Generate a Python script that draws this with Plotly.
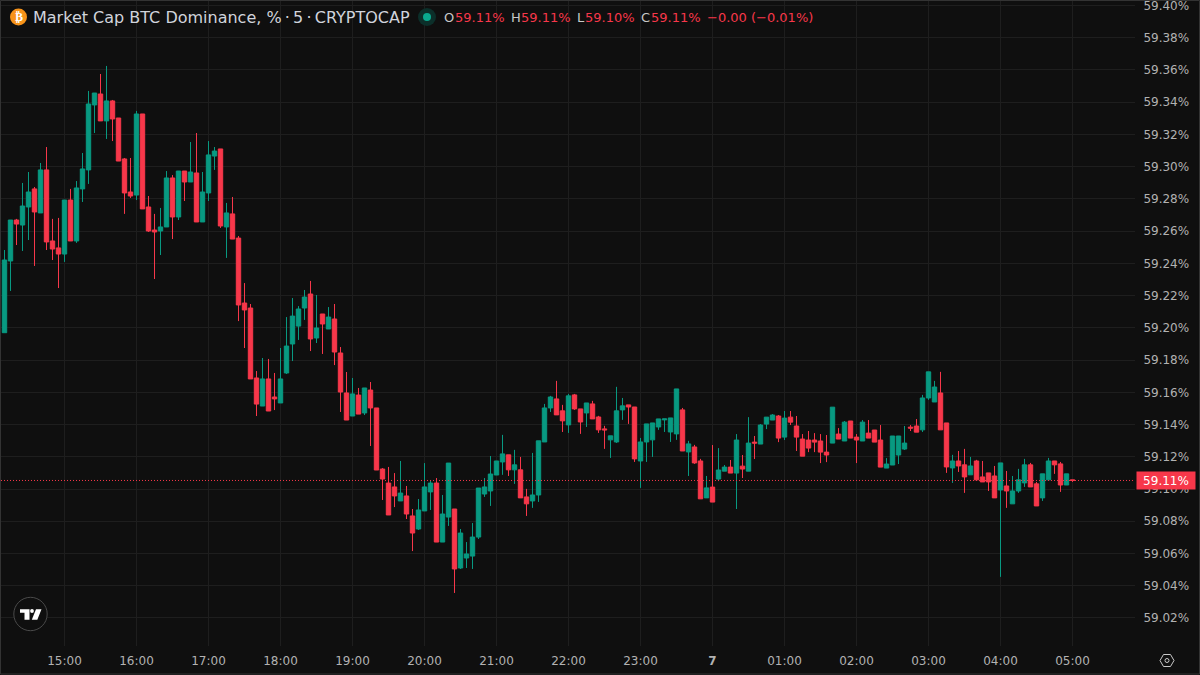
import pandas as pd
import plotly.graph_objects as go

open_ = [59.1970,59.2415,59.2669,59.2638,59.2750,59.2862,59.2713,59.2980,59.2539,59.2496,
59.2458,59.2793,59.2539,59.2862,59.2980,59.3383,59.3451,59.3284,59.3408,59.3302,
59.3048,59.2843,59.2824,59.3327,59.2750,59.2607,59.2601,59.2626,59.2930,59.2688,
59.2973,59.2905,59.2961,59.2657,59.2837,59.3066,59.3110,59.2626,59.2707,59.2557,
59.2154,59.2123,59.1689,59.1515,59.1683,59.1571,59.1534,59.1720,59.1900,59.2011,
59.2123,59.2210,59.1937,59.2086,59.1993,59.2055,59.1844,59.1596,59.1453,59.1583,
59.1472,59.1614,59.1503,59.1124,59.1037,59.1013,59.0926,59.0957,59.0833,59.0752,
59.0864,59.0982,59.1037,59.0671,59.0826,59.0876,59.0510,59.0572,59.0584,59.0702,
59.0969,59.0988,59.1087,59.1168,59.1212,59.1119,59.1119,59.0951,59.0926,59.0963,
59.1292,59.1503,59.1559,59.1485,59.1398,59.1584,59.1497,59.1472,59.1528,59.1447,
59.1373,59.1305,59.1292,59.1491,59.1522,59.1509,59.1174,59.1292,59.1305,59.1385,
59.1429,59.1354,59.1342,59.1491,59.1230,59.1261,59.1174,59.0945,59.1012,59.1062,
59.1111,59.1136,59.1099,59.1142,59.1111,59.1291,59.1279,59.1403,59.1428,59.1453,
59.1322,59.1446,59.1391,59.1310,59.1304,59.1304,59.1298,59.1229,59.1285,59.1341,
59.1298,59.1422,59.1322,59.1298,59.1347,59.1366,59.1304,59.1130,59.1149,59.1211,
59.1248,59.1384,59.1391,59.1367,59.1565,59.1540,59.1596,59.1410,59.1131,59.1174,
59.1150,59.1088,59.1174,59.1075,59.1100,59.1081,59.0994,59.1019,59.0908,59.0988,
59.1038,59.1150,59.1032,59.0945,59.1057,59.1174,59.1156,59.1025,59.1057]

high = [59.2483,59.2669,59.2676,59.2899,59.2967,59.2874,59.3023,59.3122,59.2676,59.2682,
59.2793,59.2862,59.2911,59.3085,59.3470,59.3457,59.3575,59.3625,59.3414,59.3302,
59.3054,59.3054,59.3346,59.3327,59.2818,59.2707,59.2744,59.2973,59.2948,59.2973,
59.2973,59.3153,59.3209,59.2967,59.3159,59.3122,59.3110,59.2775,59.2812,59.2570,
59.2278,59.2148,59.1732,59.1813,59.1807,59.1720,59.1875,59.2067,59.2185,59.2135,
59.2235,59.2291,59.2204,59.2086,59.2129,59.2148,59.1881,59.1726,59.1689,59.1627,
59.1627,59.1664,59.1503,59.1130,59.1137,59.1099,59.1174,59.1019,59.0876,59.0938,
59.1161,59.1056,59.1068,59.0963,59.1161,59.0876,59.0752,59.0671,59.0789,59.1006,
59.1068,59.1205,59.1174,59.1336,59.1212,59.1243,59.1199,59.1001,59.1224,59.1299,
59.1528,59.1578,59.1671,59.1522,59.1590,59.1590,59.1497,59.1534,59.1547,59.1454,
59.1392,59.1330,59.1634,59.1565,59.1522,59.1509,59.1317,59.1404,59.1410,59.1435,
59.1435,59.1441,59.1621,59.1503,59.1299,59.1274,59.1187,59.1081,59.1273,59.1254,
59.1149,59.1180,59.1341,59.1211,59.1446,59.1329,59.1403,59.1446,59.1465,59.1459,
59.1484,59.1484,59.1453,59.1341,59.1360,59.1347,59.1341,59.1335,59.1508,59.1378,
59.1422,59.1422,59.1341,59.1428,59.1428,59.1366,59.1397,59.1192,59.1329,59.1329,
59.1391,59.1397,59.1434,59.1584,59.1727,59.1671,59.1727,59.1410,59.1212,59.1236,
59.1249,59.1199,59.1181,59.1174,59.1100,59.1143,59.1162,59.1112,59.1081,59.1125,
59.1187,59.1162,59.1044,59.1094,59.1193,59.1174,59.1168,59.1094,59.1057]

low = [59.1970,59.2229,59.2514,59.2477,59.2545,59.2384,59.2713,59.2483,59.2421,59.2247,
59.2409,59.2539,59.2527,59.2781,59.2893,59.3209,59.3284,59.3172,59.3159,59.3035,
59.2707,59.2806,59.2793,59.2738,59.2595,59.2303,59.2452,59.2626,59.2551,59.2669,
59.2787,59.2905,59.2657,59.2657,59.2787,59.2980,59.2620,59.2434,59.2551,59.2042,
59.1875,59.1683,59.1453,59.1515,59.1484,59.1490,59.1534,59.1714,59.1794,59.1925,
59.2049,59.1856,59.1906,59.1838,59.1993,59.1769,59.1478,59.1428,59.1453,59.1465,
59.1459,59.1267,59.1118,59.0932,59.0839,59.0888,59.0926,59.0814,59.0615,59.0746,
59.0864,59.0870,59.0671,59.0671,59.0771,59.0355,59.0504,59.0510,59.0504,59.0690,
59.0951,59.0895,59.1087,59.1088,59.1081,59.1032,59.0945,59.0833,59.0883,59.0920,
59.1292,59.1478,59.1460,59.1354,59.1348,59.1491,59.1342,59.1385,59.1435,59.1348,
59.1249,59.1193,59.1286,59.1429,59.1404,59.1168,59.1007,59.1168,59.1199,59.1367,
59.1354,59.1292,59.1305,59.1236,59.1081,59.1156,59.0939,59.0945,59.0919,59.1049,
59.1111,59.1099,59.0876,59.1068,59.1111,59.1186,59.1279,59.1372,59.1428,59.1291,
59.1304,59.1397,59.1236,59.1204,59.1229,59.1229,59.1161,59.1167,59.1285,59.1310,
59.1298,59.1316,59.1161,59.1298,59.1316,59.1291,59.1136,59.1130,59.1149,59.1155,
59.1242,59.1360,59.1353,59.1354,59.1553,59.1540,59.1367,59.1100,59.1038,59.1106,
59.0976,59.1088,59.1057,59.1044,59.0988,59.0945,59.0455,59.0883,59.0908,59.0976,
59.1013,59.1013,59.0895,59.0926,59.1057,59.1094,59.0982,59.1025,59.1044]

close = [59.2421,59.2669,59.2644,59.2756,59.2843,59.2719,59.2980,59.2533,59.2489,59.2458,
59.2793,59.2539,59.2868,59.2986,59.3389,59.3457,59.3284,59.3408,59.3296,59.3035,
59.2837,59.2818,59.3327,59.2738,59.2601,59.2595,59.2626,59.2930,59.2688,59.2973,
59.2905,59.2967,59.2657,59.2843,59.3073,59.3097,59.2632,59.2713,59.2551,59.2142,
59.2111,59.1683,59.1527,59.1683,59.1484,59.1559,59.1683,59.1887,59.2073,59.2117,
59.2191,59.1931,59.1999,59.2024,59.2067,59.1850,59.1602,59.1428,59.1590,59.1465,
59.1627,59.1503,59.1118,59.1062,59.0839,59.0957,59.0975,59.0845,59.0727,59.0870,
59.1013,59.1037,59.0671,59.0845,59.1161,59.0504,59.0727,59.0597,59.0702,59.1006,
59.1013,59.1093,59.1174,59.1218,59.1119,59.1150,59.0945,59.0908,59.0963,59.1299,
59.1503,59.1571,59.1460,59.1423,59.1578,59.1497,59.1416,59.1534,59.1435,59.1367,
59.1367,59.1330,59.1485,59.1516,59.1509,59.1187,59.1292,59.1404,59.1410,59.1435,
59.1435,59.1441,59.1621,59.1236,59.1280,59.1162,59.0939,59.1007,59.0919,59.1118,
59.1136,59.1099,59.1304,59.1124,59.1285,59.1285,59.1397,59.1446,59.1459,59.1316,
59.1440,59.1415,59.1322,59.1204,59.1254,59.1291,59.1229,59.1211,59.1508,59.1310,
59.1415,59.1316,59.1304,59.1415,59.1316,59.1291,59.1136,59.1155,59.1329,59.1329,
59.1285,59.1378,59.1353,59.1565,59.1727,59.1633,59.1367,59.1137,59.1174,59.1143,
59.1075,59.1143,59.1057,59.1044,59.1044,59.0945,59.1162,59.0988,59.0988,59.1057,
59.1150,59.1013,59.0895,59.1094,59.1174,59.1150,59.1025,59.1094,59.1053]

times = pd.date_range("2024-06-06 14:10", periods=len(close), freq="5min")
hour_ticks = pd.date_range("2024-06-06 15:00", "2024-06-07 05:00", freq="1h")
hour_labels = ["15:00","16:00","17:00","18:00","19:00","20:00","21:00","22:00","23:00",
               "<b>7</b>","01:00","02:00","03:00","04:00","05:00"]
price_ticks = [59.02,59.04,59.06,59.08,59.10,59.12,59.14,59.16,59.18,59.20,
               59.22,59.24,59.26,59.28,59.30,59.32,59.34,59.36,59.38,59.40]

UP = "#089981"
DOWN = "#F7374A"
BG = "#0F0F0F"
GRID = "#1E1E1E"
TXT = "#B2B2B2"
FONT = "DejaVu Sans"

# plot area in page pixels
L, R, T, B = 1, 1135, 1, 646

def px(x):
    return (x - L) / (R - L)

def py(y):
    return (B - y) / (B - T)

def path(points):
    return "M " + " L ".join(f"{px(x)},{py(y)}" for x, y in points) + " Z"

def circle(cx, cy, r, **kw):
    return dict(type="circle", xref="paper", yref="paper", x0=px(cx - r), x1=px(cx + r),
                y0=py(cy + r), y1=py(cy - r), layer="above", **kw)

def label(x, text, color, size=13, y=17.5):
    return dict(x=px(x), y=py(y), xref="paper", yref="paper", xanchor="left", yanchor="middle",
                text=text, showarrow=False, align="left", borderpad=0,
                font=dict(family=FONT, size=size, color=color))

fig = go.Figure(go.Candlestick(
    x=times, open=open_, high=high, low=low, close=close,
    increasing=dict(line=dict(color=UP, width=1), fillcolor=UP),
    decreasing=dict(line=dict(color=DOWN, width=1), fillcolor=DOWN),
    whiskerwidth=0, showlegend=False,
))

shapes = [
    dict(type="line", xref="paper", yref="y", x0=0, x1=1, y0=close[-1], y1=close[-1],
         line=dict(color=DOWN, width=1, dash="1px,2px")),
    dict(type="rect", xref="paper", yref="paper", x0=px(0.5), x1=px(1199.5), y0=py(674), y1=py(0.5),
         line=dict(color="#333333", width=1), fillcolor="rgba(0,0,0,0)", layer="above"),
    circle(18.5, 17, 8.5, fillcolor="#F7931A", line=dict(width=0)),
    circle(427, 17, 9, fillcolor="#0C2F2A", line=dict(width=0)),
    circle(427, 17, 4, fillcolor="#0AA88E", line=dict(width=0)),
    circle(30.5, 614, 16.7, fillcolor=BG, line=dict(color="#4A4A4A", width=1)),
    # TradingView mark
    dict(type="path", xref="paper", yref="paper", layer="above", fillcolor="#FFFFFF", line=dict(width=0),
         path=path([(20,609.3),(29.5,609.3),(29.5,619.7),(24.5,619.7),(24.5,612.8),(20,612.8)])),
    circle(32, 611, 1.9, fillcolor="#FFFFFF", line=dict(width=0)),
    dict(type="path", xref="paper", yref="paper", layer="above", fillcolor="#FFFFFF", line=dict(width=0),
         path=path([(36,609.3),(41.5,609.3),(37.3,619.7),(31.8,619.7)])),
    # settings hexagon
    dict(type="path", xref="paper", yref="paper", layer="above", fillcolor="rgba(0,0,0,0)",
         line=dict(color="#C8C8C8", width=1),
         path=path([(1160,660.5),(1163.5,654.5),(1170.5,654.5),(1174,660.5),(1170.5,666.5),(1163.5,666.5)])),
    circle(1167, 660.5, 2, fillcolor="rgba(0,0,0,0)", line=dict(color="#C8C8C8", width=1)),
]

annotations = [
    label(31.5, "Market Cap BTC Dominance, %\u2009·\u20095\u2009·\u2009CRYPTOCAP", "#D1D4DC", size=16),
    dict(x=px(18.5), y=py(17), xref="paper", yref="paper", xanchor="center", yanchor="middle",
         text="<b>₿</b>", showarrow=False, borderpad=0,
         font=dict(family=FONT, size=12, color="#FFFFFF")),
    label(443, "O", "#C8C8C8"), label(454, f"{open_[-1]:.2f}%", DOWN),
    label(510, "H", "#C8C8C8"), label(520, f"{high[-1]:.2f}%", DOWN),
    label(576, "L", "#C8C8C8"), label(584, f"{low[-1]:.2f}%", DOWN),
    label(640, "C", "#C8C8C8"), label(650, f"{close[-1]:.2f}%", DOWN),
    label(706, "−0.00 (−0.01%)", DOWN),
    dict(x=px(1136), y=close[-1], xref="paper", yref="y", xanchor="left", yanchor="middle",
         text=f"{close[-1]:.2f}%", showarrow=False, bgcolor=DOWN, width=58, height=17, borderpad=0,
         font=dict(family=FONT, size=12, color="#FFFFFF")),
]

fig.update_layout(
    width=1200, height=675,
    margin=dict(l=L, r=1200 - R, t=T, b=675 - B, autoexpand=False),
    paper_bgcolor=BG, plot_bgcolor=BG,
    font=dict(family=FONT, size=12, color=TXT),
    boxgap=0.27, boxgroupgap=0, showlegend=False, hovermode=False,
    shapes=shapes, annotations=annotations,
)
fig.update_xaxes(
    type="date", range=["2024-06-06 14:07:05", "2024-06-07 05:52:05"], automargin=False,
    rangeslider_visible=False, tickvals=hour_ticks, ticktext=hour_labels, tickangle=0,
    showgrid=True, gridcolor=GRID, gridwidth=1, zeroline=False, showline=False,
    ticks="outside", ticklen=4, tickcolor="rgba(0,0,0,0)", tickfont=dict(family=FONT, size=12, color=TXT),
)
fig.update_yaxes(
    side="right", range=[59.0026, 59.4028], tickvals=price_ticks, automargin=False,
    ticktext=[f"{p:.2f}%" for p in price_ticks], ticklabeloverflow="allow",
    showgrid=True, gridcolor=GRID, gridwidth=1, zeroline=False, showline=False,
    ticks="outside", ticklen=5, tickcolor="rgba(0,0,0,0)", tickfont=dict(family=FONT, size=12, color=TXT),
)

fig.write_html("out.html", config=dict(displayModeBar=False),
               post_script="document.body.style.margin='0';document.body.style.overflow='hidden';")
